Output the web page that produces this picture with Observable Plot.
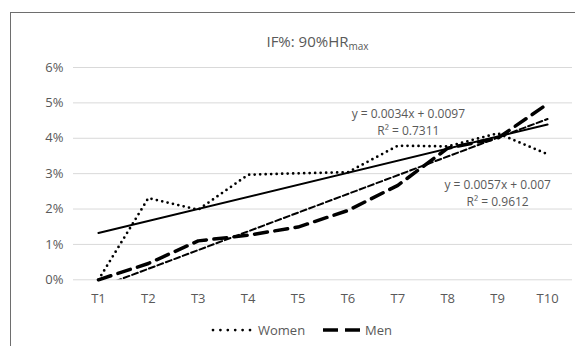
<!DOCTYPE html>
<html>
<head>
<meta charset="utf-8">
<script src="https://cdn.jsdelivr.net/npm/d3@7"></script>
<script src="https://cdn.jsdelivr.net/npm/@observablehq/plot@0.6"></script>
<style>
  html, body { margin: 0; padding: 0; background: #fff; }
  body { width: 575px; height: 346px; overflow: hidden; position: relative; font-family: "Open Sans", sans-serif; color: #595959; }
  #frame { position: absolute; left: 10px; top: 12px; width: 600px; height: 400px; border: 1px solid #6e6e6e; box-sizing: border-box; }
  #title { position: absolute; left: 0; width: 635px; top: 31px; text-align: center; font-size: 15px; line-height: 21px; }
  #title sub { font-size: 10px; vertical-align: -3px; line-height: 0; }
  #chart { position: absolute; left: 0; top: 55px; }
  #legend { position: absolute; top: 320px; left: 0; width: 575px; font-size: 13px; line-height: 20px; }
  .item { position: absolute; top: 0; display: flex; align-items: center; }
  .item svg { margin-right: 3px; }
</style>
</head>
<body>
<div id="frame"></div>
<div id="title">IF%: 90%HR<sub>max</sub></div>
<div id="chart"></div>
<div id="legend">
  <div class="item" style="left:211px"><svg width="44" height="8"><line x1="2" y1="4" x2="42" y2="4" stroke="#000" stroke-width="2.75" stroke-dasharray="0 7.4" stroke-linecap="round"/></svg><span>Women</span></div>
  <div class="item" style="left:322px"><svg width="40" height="8"><line x1="1" y1="4" x2="39" y2="4" stroke="#000" stroke-width="3.5" stroke-dasharray="15 7"/></svg><span>Men</span></div>
</div>
<script>
const categories = ["T1","T2","T3","T4","T5","T6","T7","T8","T9","T10"];
const women = [0.0000, 0.0231, 0.0198, 0.0297, 0.0301, 0.0304, 0.0379, 0.0377, 0.0414, 0.0355];
const men   = [0.0000, 0.0046, 0.0110, 0.0126, 0.0149, 0.0196, 0.0267, 0.0372, 0.0400, 0.0497];
const yTicks = [0, 0.01, 0.02, 0.03, 0.04, 0.05, 0.06];
const trendLabels = [
  {x: 7.21, y: 0.0449, text: "y = 0.0034x + 0.0097\nR² = 0.7311"},
  {x: 9.0, y: 0.0248, text: "y = 0.0057x + 0.007\nR² = 0.9612"}
];

const wData = categories.map((c, i) => ({i: i + 1, v: women[i]}));
const mData = categories.map((c, i) => ({i: i + 1, v: men[i]}));

const chart = Plot.plot({
  width: 575,
  height: 260,
  marginTop: 12,
  marginBottom: 35.7,
  marginLeft: 73,
  marginRight: 3,
  style: {fontFamily: "Open Sans, sans-serif", fontSize: "13px", color: "#595959", background: "transparent", overflow: "visible"},
  x: {type: "linear", domain: [0.5, 10.5]},
  y: {domain: [0, 0.06]},
  marks: [
    Plot.ruleY(yTicks, {stroke: "#d9d9d9", strokeWidth: 1}),
    Plot.axisY({ticks: yTicks, tickFormat: d3.format(".0%"), tickSize: 0, tickPadding: 10, fill: "#595959", fontSize: 13}),
    Plot.axisX({ticks: categories.map((c, i) => i + 1), tickFormat: d => categories[d - 1], tickSize: 0, tickPadding: 14, fill: "#595959", fontSize: 13}),
    Plot.linearRegressionY(wData, {x: "i", y: "v", ci: 0, stroke: "#000", strokeWidth: 2, clip: true}),
    Plot.linearRegressionY(mData, {x: "i", y: "v", ci: 0, stroke: "#000", strokeWidth: 2, strokeDasharray: "6 3", clip: true}),
    Plot.line(wData, {x: "i", y: "v", stroke: "#000", strokeWidth: 2.75, strokeDasharray: "0 5.5", strokeLinecap: "round"}),
    Plot.line(mData, {x: "i", y: "v", stroke: "#000", strokeWidth: 3.5, strokeDasharray: "13 7.5"}),
    Plot.text(trendLabels, {x: "x", y: "y", text: "text", fill: "#595959", fontSize: 12, lineHeight: 1.38, textAnchor: "middle"})
  ]
});
document.getElementById("chart").appendChild(chart);
</script>
</body>
</html>
